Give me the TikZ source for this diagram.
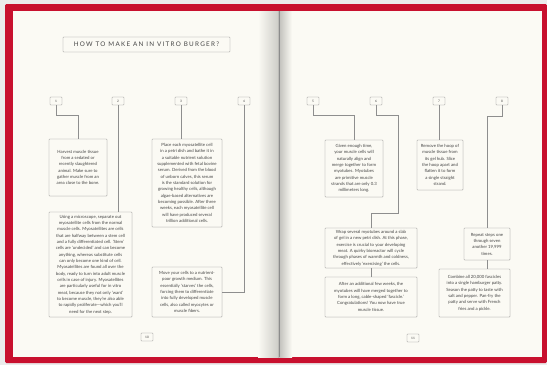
\documentclass[tikz,border=0pt]{standalone}
\usepackage{fontspec}
\setmainfont{Lato}
\usetikzlibrary{shadows}

\definecolor{cover}{HTML}{C8102E}
\definecolor{paper}{HTML}{FBFAF4}
\definecolor{ink}{HTML}{454545}
\definecolor{rule}{HTML}{8E8E8E}

\tikzset{
  stepbox/.style={draw=rule, line width=0.5pt, rounded corners=1pt, fill=paper,
    text=ink, align=center, inner sep=0pt, font=\fontsize{6.1}{9}\selectfont,
    drop shadow={opacity=0.15, shadow xshift=0.4pt, shadow yshift=-0.4pt}},
  numbox/.style={draw=rule, line width=0.5pt, rounded corners=1pt, fill=paper,
    text=ink, inner sep=0pt, minimum width=6mm, minimum height=4mm,
    font=\fontsize{4.5}{5}\selectfont},
  titlebox/.style={draw=rule, line width=0.5pt, rounded corners=1pt, fill=paper,
    text=ink, minimum width=83.5mm, minimum height=7.5mm,
    font=\fontsize{9}{10}\selectfont\addfontfeatures{LetterSpace=20}},
  link/.style={draw=rule, line width=0.6pt},
}

\begin{document}
\begin{tikzpicture}[x=0.5mm,y=-0.5mm]

\useasboundingbox (0,0) rectangle (547,365);

%%%%%%%%%%%%%%%%%%%%%%%%
% book
%%%%%%%%%%%%%%%%%%%%%%%%

\fill[black!8] (0,0) rectangle (547,365);
\fill[cover, rounded corners=2pt] (5,4) rectangle (547,363);
\fill[paper] (13,11) rectangle (542,357);
\shade[left color=paper, right color=black!18!paper] (258,11) rectangle (278,357);
\shade[left color=black!25!paper, right color=paper] (278,11) rectangle (292,357);
\draw[black!45, line width=0.7pt] (279,11) -- (279,357);

\node[titlebox] (title) at (146.5,44.5) {HOW TO MAKE AN IN VITRO BURGER?};

\foreach \i/\x in {1/56,2/118,3/181,4/244,5/313,6/376,7/439,8/502}
  \node[numbox] (n\i) at (\x,101) {\i};

\node[numbox] (p10) at (147,337) {10};
\node[numbox] (p11) at (413,338) {11};

%%%%%%%%%%%%%%%%%%%%%%%%
% left page
%%%%%%%%%%%%%%%%%%%%%%%%

\node[stepbox, minimum width=29mm, minimum height=28.5mm] (harvest) at (78,167.5)
  {Harvest muscle tissue\\ from a sedated or\\ recently slaughtered\\ animal. Make sure to\\
   gather muscle from an\\ area close to the bone.};

\node[stepbox, minimum width=41.5mm, minimum height=52.5mm] (separate) at (90.5,264.5)
  {Using a microscope, separate out\\ myosatellite cells from the normal\\
   muscle cells. Myosatellites are cells\\ that are halfway between a stem cell\\
   and a fully differentiated cell. ‘Stem’\\ cells are ‘undecided’ and can become\\
   anything, whereas substitute cells\\ can only become one kind of cell.\\
   Myosatellites are found all over the\\ body, ready to turn into adult muscle\\
   cells in case of injury. Myosatellites\\ are particularly useful for in vitro\\
   meat, because they not only ‘want’\\ to become muscle, they’re also able\\
   to rapidly proliferate—which you’ll\\ need for the next step.};

\node[stepbox, minimum width=35mm, minimum height=44mm] (culture) at (187,183)
  {Place each myosatellite cell\\ in a petri dish and bathe it in\\
   a suitable nutrient solution\\ supplemented with fetal bovine\\
   serum. Derived from the blood\\ of unborn calves, this serum\\
   is the standard solution for\\ growing healthy cells, although\\
   algae-based alternatives are\\ becoming possible. After three\\
   weeks, each myosatellite cell\\ will have produced several\\
   trillion additional cells.};

\node[stepbox, minimum width=35mm, minimum height=25mm] (starve) at (187,292)
  {Move your cells to a nutrient-\\ poor growth medium. This\\
   essentially ‘starves’ the cells,\\ forcing them to differentiate\\
   into fully developed muscle\\ cells, also called myocytes or\\ muscle fibers.};

%%%%%%%%%%%%%%%%%%%%%%%%
% right page
%%%%%%%%%%%%%%%%%%%%%%%%

\node[stepbox, minimum width=29mm, minimum height=28.5mm] (align) at (354,168.5)
  {Given enough time,\\ your muscle cells will\\ naturally align and\\
   merge together to form\\ myotubes. Myotubes\\ are primitive muscle\\
   strands that are only 0.3\\ millimeters long.};

\node[stepbox, minimum width=46mm, minimum height=20mm] (wrap) at (371,248)
  {Wrap several myotubes around a slab\\ of gel in a new petri dish. At this phase,\\
   exercise is crucial to your developing\\ meat. A quirky bioreactor will cycle\\
   through phases of warmth and coldness,\\ effectively ‘exercising’ the cells.};

\node[stepbox, minimum width=46mm, minimum height=20mm] (fascicle) at (371,297)
  {After an additional few weeks, the\\ myotubes will have merged together to\\
   form a long, cable-shaped ‘fascicle.’\\ Congratulations! You now have true\\
   muscle tissue.};

\node[stepbox, minimum width=23mm, minimum height=25mm] (remove) at (440,165)
  {Remove the hoop of\\ muscle tissue from\\ its gel hub. Slice\\ the hoop apart and\\
   flatten it to form\\ a single straight\\ strand.};

\node[stepbox, minimum width=23mm, minimum height=16mm] (repeat) at (487,244)
  {Repeat steps one\\ through seven\\ another 19,999\\ times.};

\node[stepbox, minimum width=35.5mm, minimum height=24mm] (combine) at (474.5,293)
  {Combine all 20,000 fascicles\\ into a single hamburger patty.\\
   Season the patty to taste with\\ salt and pepper. Pan-fry the\\
   patty and serve with French\\ fries and a pickle.};

%%%%%%%%%%%%%%%%%%%%%%%%
% connectors
%%%%%%%%%%%%%%%%%%%%%%%%

\coordinate (b1) at (78,115);
\coordinate (b5) at (354,115);
\coordinate (b6) at (398,115);
\coordinate (b6b) at (398,213);
\coordinate (b8) at (487,116);

\draw[link] (n1) |- (b1) -- (harvest);
\draw[link] (n2) -- (n2 |- separate.north);
\draw[link] (n3) -- (n3 |- culture.north);
\draw[link] (n4) |- (starve);
\draw[link] (n5) |- (b5) -- (align);
\draw[link] (n6) |- (b6) -- (b6b) -| (wrap);
\draw[link] (wrap) -- (fascicle);
\draw[link] (n7) -- (n7 |- remove.north);
\draw[link] (n8) |- (b8) -- (repeat);
\draw[link] (repeat) -- (repeat.south |- combine.north);

\end{tikzpicture}
\end{document}
